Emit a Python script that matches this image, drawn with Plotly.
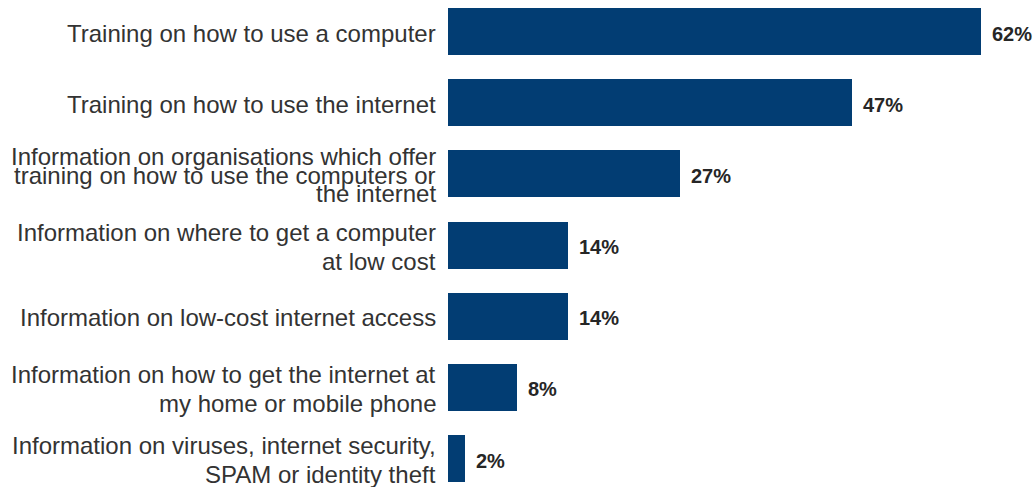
import plotly.graph_objects as go

categories = [
    ["Training on how to use a computer"],
    ["Training on how to use the internet"],
    ["Information on organisations which offer",
     "training on how to use the computers or",
     "the internet"],
    ["Information on where to get a computer", "at low cost"],
    ["Information on low-cost internet access"],
    ["Information on how to get the internet at", "my home or mobile phone"],
    ["Information on viruses, internet security,", "SPAM or identity theft"],
]
values = [62, 47, 27, 14, 14, 8, 2]
value_labels = ["62%", "47%", "27%", "14%", "14%", "8%", "2%"]

BAR_COLOR = "#023D73"
TEXT_COLOR = "#333333"
FONT = "Liberation Sans, Arial, sans-serif"

idx = list(range(len(values)))

fig = go.Figure()
fig.add_trace(go.Bar(
    x=values, y=idx, orientation="h",
    marker=dict(color=BAR_COLOR, line=dict(width=0)),
    width=0.66, hoverinfo="skip",
))

annotations = []
for i, (lines, v, lab) in enumerate(zip(categories, values, value_labels)):
    n = len(lines)
    spacing = 18.5 if n >= 3 else 29
    for k, line in enumerate(lines):
        off = (k - (n - 1) / 2) * spacing + 1.5
        annotations.append(dict(
            x=0, xref="paper", y=i, yref="y", text=line,
            xanchor="right", yanchor="middle", xshift=-10, yshift=-off,
            showarrow=False, font=dict(family=FONT, size=24, color=TEXT_COLOR),
        ))
    annotations.append(dict(
        x=v, xref="x", y=i, yref="y", text="<b>" + lab + "</b>",
        xanchor="left", yanchor="middle", xshift=9, yshift=-2,
        showarrow=False, font=dict(family=FONT, size=20, color="#262626"),
    ))

fig.update_layout(
    width=1036, height=487,
    margin=dict(l=448, r=0, t=0, b=0),
    paper_bgcolor="white", plot_bgcolor="white",
    showlegend=False,
    annotations=annotations,
    xaxis=dict(range=[0, 68.4], visible=False, fixedrange=True),
    yaxis=dict(range=[6.40, -0.443], visible=False, fixedrange=True),
    bargap=0,
)

fig.write_html("out.html", config={"displayModeBar": False})
